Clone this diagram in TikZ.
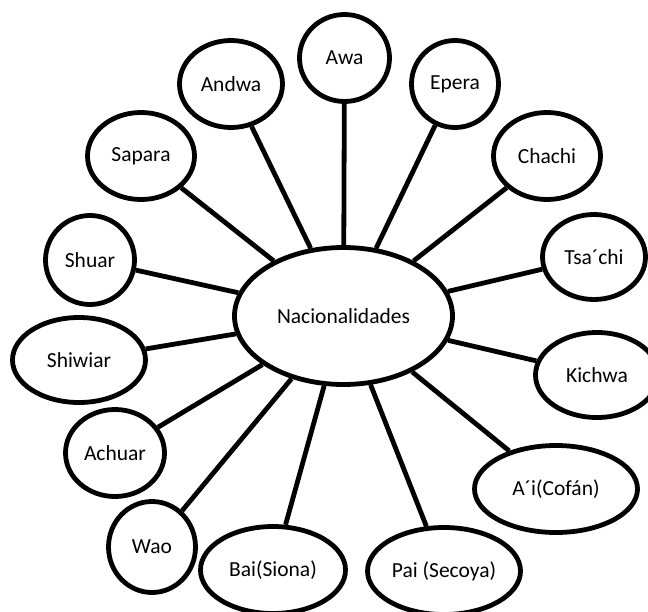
\documentclass[tikz,border=0pt]{standalone}
\usepackage{fontspec}
\setmainfont{Carlito}
\usetikzlibrary{shapes.geometric}
\tikzset{
  bub/.style={ellipse, draw=black, line width=4.8bp, fill=white, inner sep=0pt,
    font=\fontsize{21.5bp}{25bp}\selectfont},
  link/.style={draw=black, line width=4.8bp}
}
\begin{document}
\begin{tikzpicture}[x=1bp,y=-1bp]
\useasboundingbox (0,0) rectangle (648,612);
\node[bub, minimum width=218bp, minimum height=137bp] (nac) at (343.5,316) {Nacionalidades};
\node[bub, minimum width=90bp, minimum height=87bp] (awa) at (344.5,58) {Awa};
\node[bub, minimum width=103bp, minimum height=87bp] (andwa) at (231,84) {Andwa};
\node[bub, minimum width=87bp, minimum height=87bp] (epera) at (455,84) {Epera};
\node[bub, minimum width=107bp, minimum height=87bp] (sapara) at (141,156) {Sapara};
\node[bub, minimum width=107bp, minimum height=87bp] (chachi) at (547,156) {Chachi};
\node[bub, minimum width=89bp, minimum height=89bp] (shuar) at (90,260) {Shuar};
\node[bub, minimum width=103bp, minimum height=85bp] (tsachi) at (594,257) {Tsa´chi};
\node[bub, minimum width=133bp, minimum height=85bp] (shiwiar) at (79,360) {Shiwiar};
\node[bub, minimum width=123bp, minimum height=85bp] (kichwa) at (597,375) {Kichwa};
\node[bub, minimum width=99bp, minimum height=87bp] (achuar) at (115,453) {Achuar};
\node[bub, minimum width=163bp, minimum height=87bp] (cofan) at (556,489) {A´i(Cofán)};
\node[bub, minimum width=87bp, minimum height=91bp] (wao) at (152,547) {Wao};
\node[bub, minimum width=145bp, minimum height=87bp] (bai) at (273,570) {Bai(Siona)};
\node[bub, minimum width=153bp, minimum height=87bp] (pai) at (444,571) {Pai (Secoya)};
\foreach \n in {awa,andwa,epera,sapara,chachi,shuar,tsachi,shiwiar,kichwa,achuar,cofan,wao,bai,pai}
  \draw[link] (nac) -- (\n);
\end{tikzpicture}
\end{document}
